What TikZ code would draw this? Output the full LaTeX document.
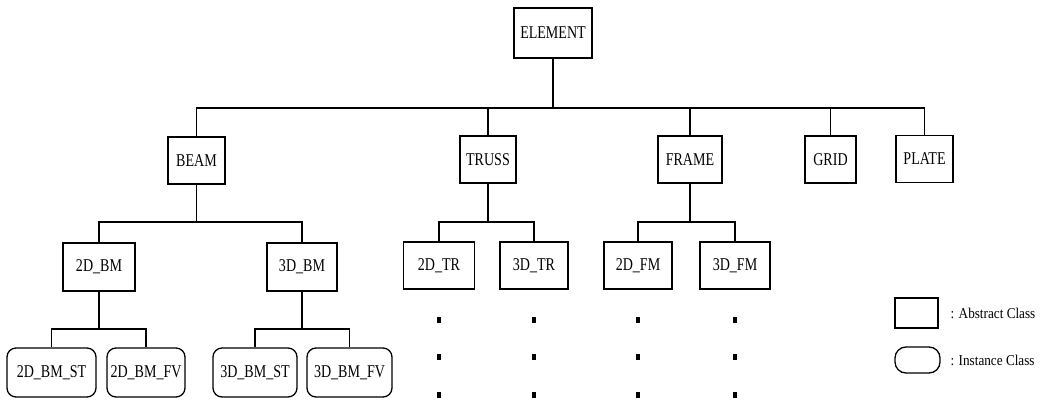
\documentclass[tikz,border=0pt]{standalone}
\usepackage{fontspec}
\setmainfont{Liberation Serif}[FakeStretch=0.78]
\newfontfamily\legfont{Liberation Serif}[FakeStretch=0.88]
\begin{document}
\begin{tikzpicture}[x=1pt,y=-1pt,
  line width=1.3pt,
  abs/.style={draw, rectangle, inner sep=0pt, minimum height=#1, font=\fontsize{18}{18}\selectfont},
  abs/.default=47pt,
  inst/.style={draw, rectangle, rounded corners=9pt, inner sep=0pt, minimum height=49pt, font=\fontsize{18}{18}\selectfont},
  conn/.style={line width=1.3pt},
  dotmark/.style={fill=black, inner sep=0pt, minimum width=3.5pt, minimum height=5.5pt, rectangle},
  legtext/.style={anchor=west, inner sep=0pt, font=\legfont\fontsize{15}{15}\selectfont}]
\useasboundingbox (0,0) rectangle (1043,398);
% level 0
\node[abs=50pt, minimum width=78pt] (elem) at (553,33) {ELEMENT};
% level 1
\node[abs, minimum width=57pt] (beam)  at (196.5,160.5) {BEAM};
\node[abs, minimum width=56pt] (truss) at (488,159.5) {TRUSS};
\node[abs, minimum width=64pt] (frame) at (690,159.5) {FRAME};
\node[abs, minimum width=51pt] (grid)  at (830.5,159.5) {GRID};
\node[abs, minimum width=57pt] (plate) at (924.5,159) {PLATE};
% level 2
\node[abs=48pt, minimum width=72pt] (bm2) at (99,267) {2D\_BM};
\node[abs=48pt, minimum width=70pt] (bm3) at (302,267) {3D\_BM};
\node[abs=47pt, minimum width=71pt] (tr2) at (439,265.5) {2D\_TR};
\node[abs=47pt, minimum width=68pt] (tr3) at (534,265.5) {3D\_TR};
\node[abs=47pt, minimum width=68pt] (fm2) at (638,265.5) {2D\_FM};
\node[abs=47pt, minimum width=70pt] (fm3) at (735,265.5) {3D\_FM};
% level 3
\node[inst, minimum width=89pt] (bm2st) at (51.5,372.5) {2D\_BM\_ST};
\node[inst, minimum width=78pt] (bm2fv) at (146,372.5) {2D\_BM\_FV};
\node[inst, minimum width=84pt] (bm3st) at (255,372.5) {3D\_BM\_ST};
\node[inst, minimum width=85pt] (bm3fv) at (349.5,372.5) {3D\_BM\_FV};
% bus coordinates
\coordinate (bus0) at (0,108);
\coordinate (bus1) at (0,222);
\coordinate (bus2) at (0,329);
% connectors level 0 -> 1
\draw[conn] (elem.south) -- (elem.south |- bus0);
\draw[conn] (beam.north) |- (plate.north |- bus0) -- (plate.north);
\foreach \c in {truss,frame,grid} \draw[conn] (\c.north) -- (\c.north |- bus0);
% level 1 -> 2
\draw[conn] (beam.south) -- (beam.south |- bus1);
\draw[conn] (bm2.north) |- (bm3.north |- bus1) -- (bm3.north);
\draw[conn] (truss.south) -- (truss.south |- bus1);
\draw[conn] (tr2.north) |- (tr3.north |- bus1) -- (tr3.north);
\draw[conn] (frame.south) -- (frame.south |- bus1);
\draw[conn] (fm2.north) |- (fm3.north |- bus1) -- (fm3.north);
% level 2 -> 3
\draw[conn] (bm2.south) -- (bm2.south |- bus2);
\draw[conn] (bm2st.north) |- (bm2fv.north |- bus2) -- (bm2fv.north);
\draw[conn] (bm3.south) -- (bm3.south |- bus2);
\draw[conn] (bm3st.north) |- (bm3fv.north |- bus2) -- (bm3fv.north);
% continuation dots
\foreach \c in {tr2,tr3,fm2,fm3} {
  \foreach \y/\k in {320/a,357/b,395/c} {
    \node[dotmark] (\c dot\k) at (\c.south |- 0,\y) {};
  }
}
% legend
\node[draw, rectangle, minimum width=43pt, minimum height=30pt, inner sep=0pt] (legabs) at (916.5,313) {};
\node[draw, rectangle, rounded corners=11pt, minimum width=45pt, minimum height=26pt, inner sep=0pt] (leginst) at (917.5,360) {};
\node[legtext] (legabst) at (950,313) {: Abstract Class};
\node[legtext] (leginstt) at (950,360) {: Instance Class};
\end{tikzpicture}
\end{document}
